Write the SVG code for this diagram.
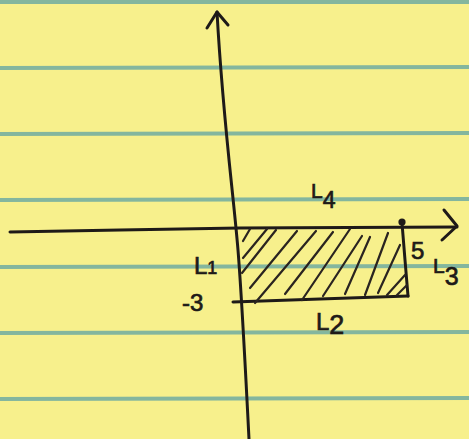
<svg xmlns="http://www.w3.org/2000/svg" width="469" height="439" viewBox="0 0 469 439">
<style>
.rule{stroke:#84b69e;stroke-width:4;fill:none}
.ink{stroke:#1e1a18;stroke-width:3;fill:none;stroke-linecap:round;stroke-linejoin:round}
.hatch{stroke:#2a2420;stroke-width:2.2;fill:none;stroke-linecap:round}
.lbl{font-family:"Liberation Sans","DejaVu Sans",sans-serif;fill:#1e1a18;stroke:#1e1a18;stroke-width:0.7}
</style>
<rect x="0" y="0" width="469" height="439" fill="#f7f08c"/>
<g id="paper-lines">
<line class="rule" x1="0" y1="2" x2="469" y2="2"/>
<line class="rule" x1="0" y1="68" x2="469" y2="67"/>
<line class="rule" x1="0" y1="134" x2="469" y2="133"/>
<line class="rule" x1="0" y1="200" x2="469" y2="199"/>
<line class="rule" x1="0" y1="267" x2="469" y2="266"/>
<line class="rule" x1="0" y1="333" x2="469" y2="332"/>
<line class="rule" x1="0" y1="399" x2="469" y2="398"/>
</g>
<g id="connectors">
<path id="y-axis" class="ink" d="M217,12 C223,120 233,190 238,250 C242,300 246,380 249,439"/>
<polyline class="ink" points="207,28 217,12 228,25"/>
<polyline id="x-axis" class="ink" points="10,232 120,230 240,228 457,227"/>
<polyline class="ink" points="444,210 457,226 442,240"/>
</g>
<g id="region">
<polyline class="ink" points="402,223 405,260 408,296"/>
<polyline class="ink" points="233,302 320,299 408,296"/>
<circle cx="402" cy="222" r="3.6" fill="#1e1a18"/>
<g class="hatch">
<line x1="243" y1="241" x2="250" y2="229"/>
<line x1="243" y1="258" x2="267" y2="229"/>
<line x1="242" y1="273" x2="276" y2="230"/>
<line x1="250" y1="288" x2="297" y2="231"/>
<line x1="255" y1="303" x2="316" y2="231"/>
<line x1="285" y1="294" x2="333" y2="232"/>
<line x1="302" y1="300" x2="350" y2="229"/>
<line x1="323" y1="296" x2="362" y2="236"/>
<line x1="345" y1="294" x2="370" y2="237"/>
<line x1="365" y1="295" x2="388" y2="233"/>
<line x1="378" y1="293" x2="400" y2="245"/>
<line x1="387" y1="295" x2="405" y2="275"/>
<line x1="397" y1="295" x2="407" y2="285"/>
</g>
</g>
<g id="labels">
<text class="lbl" x="311" y="198" font-size="21">L<tspan dy="10" font-size="23">4</tspan></text>
<text class="lbl" x="194" y="274" font-size="24">L<tspan font-size="18">1</tspan></text>
<text class="lbl" x="182" y="311" font-size="24">-3</text>
<text class="lbl" x="411" y="259" font-size="24">5</text>
<text class="lbl" x="433" y="273" font-size="21">L<tspan dy="12" font-size="25">3</tspan></text>
<text class="lbl" x="316" y="330" font-size="24">L<tspan dy="4" font-size="27">2</tspan></text>
</g>
</svg>
